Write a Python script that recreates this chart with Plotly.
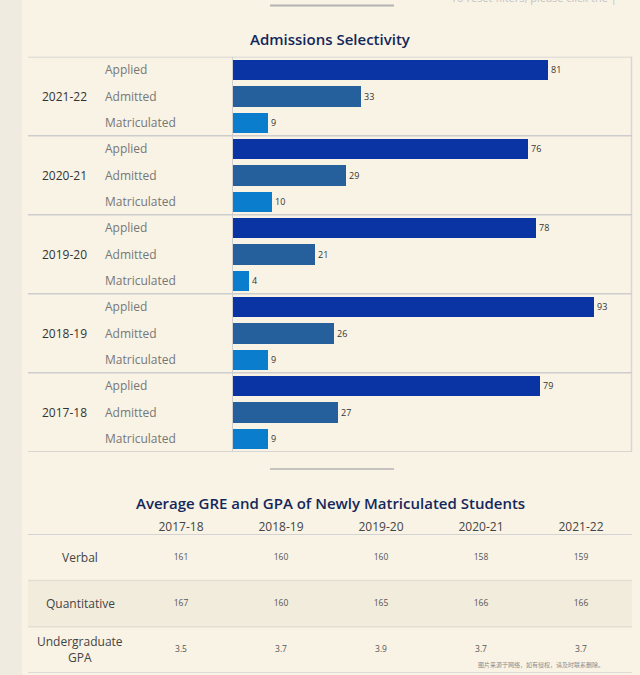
import plotly.graph_objects as go

W, H = 640, 675

# admissions data, top to bottom as shown
years = ["2021-22", "2020-21", "2019-20", "2018-19", "2017-18"]
stages = ["Applied", "Admitted", "Matriculated"]
applied = [81, 76, 78, 93, 79]
admitted = [33, 29, 21, 26, 27]
matriculated = [9, 10, 4, 9, 9]

# GRE / GPA table
table_years = ["2017-18", "2018-19", "2019-20", "2020-21", "2021-22"]
table_rows = ["Verbal", "Quantitative", "Undergraduate<br>GPA"]
verbal = [161, 160, 160, 158, 159]
quantitative = [167, 160, 165, 166, 166]
gpa = [3.5, 3.7, 3.9, 3.7, 3.7]

BG = "#f8f3e5"
STRIP = "#efebe1"
NAVY = "#14275a"
BAR_COLORS = {"Applied": "#0a33a3", "Admitted": "#25609d", "Matriculated": "#0a7dcd"}
FONT = "Open Sans"


def px_x(v):
    return v / W


def px_y(v):
    return 1 - v / H


fig = go.Figure()

# bars
series = {"Applied": applied, "Admitted": admitted, "Matriculated": matriculated}
for j, stage in enumerate(stages):
    vals = series[stage]
    fig.add_trace(go.Bar(
        x=vals,
        y=[i * 3 + j for i in range(len(years))],
        orientation="h",
        width=0.76,
        marker=dict(color=BAR_COLORS[stage], line=dict(width=0)),
        text=[str(v) for v in vals],
        textposition="outside",
        textfont=dict(size=9, color="#333333", family=FONT),
        constraintext="none",
        cliponaxis=False,
        hoverinfo="skip",
        showlegend=False,
    ))

# table values as text marks on categorical axes
tx, ty, tt = [], [], []
for row, vals in zip(table_rows, [verbal, quantitative, gpa]):
    for yr, v in zip(table_years, vals):
        tx.append(yr)
        ty.append(row)
        tt.append(str(v))
fig.add_trace(go.Scatter(
    x=tx, y=ty, text=tt, mode="text",
    textfont=dict(size=8.5, color="#555555", family=FONT),
    xaxis="x2", yaxis="y2", hoverinfo="skip", showlegend=False,
))

n_rows = len(years) * 3
shapes = [
    # left textured strip
    dict(type="rect", xref="paper", yref="paper", x0=0, x1=px_x(22), y0=0, y1=1,
         fillcolor=STRIP, line=dict(width=0), layer="below"),
    # top separators
    dict(type="line", xref="paper", yref="paper", x0=px_x(270), x1=px_x(394),
         y0=px_y(5.5), y1=px_y(5.5), line=dict(color="#b3b3b3", width=2)),
    dict(type="line", xref="paper", yref="paper", x0=px_x(270), x1=px_x(394),
         y0=px_y(469), y1=px_y(469), line=dict(color="#b3b3b3", width=1.5)),
    # bar pane borders
    dict(type="line", xref="paper", yref="y", x0=px_x(232.5), x1=px_x(232.5),
         y0=-0.5, y1=n_rows - 0.5, line=dict(color="#cfcfcf", width=1)),
    dict(type="line", xref="paper", yref="y", x0=px_x(631.5), x1=px_x(631.5),
         y0=-0.5, y1=n_rows - 0.5, line=dict(color="#d6d6d6", width=1.5)),
    # quantitative row shading
    dict(type="rect", xref="paper", yref="y2", x0=px_x(28), x1=px_x(632), y0=0.5, y1=1.5,
         fillcolor="#f2ecdc", line=dict(width=0), layer="below"),
]
for k in range(len(years) + 1):
    shapes.append(dict(type="line", xref="paper", yref="y", x0=px_x(28), x1=px_x(632),
                       y0=k * 3 - 0.5, y1=k * 3 - 0.5,
                       line=dict(color="#cdcdcd", width=1.5)))
for yv, col in [(-0.5, "#c8c8cc"), (0.5, "#e3ded2"), (1.5, "#e3ded2"), (2.5, "#d3d3d3")]:
    shapes.append(dict(type="line", xref="paper", yref="y2", x0=px_x(28), x1=px_x(632),
                       y0=yv, y1=yv, line=dict(color=col, width=1.5)))

annotations = [
    # filter hint, scrolled mostly out of view at the top edge
    dict(text="To reset filters, please click the |", xref="paper", yref="paper",
         x=px_x(449), y=px_y(-2), xanchor="left", yanchor="middle", showarrow=False,
         font=dict(size=11, color="#c4c4c4", family=FONT)),
    dict(text="Admissions Selectivity", xref="paper", yref="paper",
         x=px_x(330), y=px_y(39), xanchor="center", yanchor="middle", showarrow=False,
         font=dict(size=15, color=NAVY, family=FONT, weight=600)),
    dict(text="Average GRE and GPA of Newly Matriculated Students", xref="paper",
         yref="paper", x=px_x(330), y=px_y(502.5), xanchor="center", yanchor="middle",
         showarrow=False, font=dict(size=15, color=NAVY, family=FONT, weight=600)),
    dict(text="图片来源于网络，如有侵权，请及时联系删除。", xref="paper", yref="paper",
         x=px_x(541), y=px_y(664.5), xanchor="center", yanchor="middle", showarrow=False,
         font=dict(size=6, color="#8a8a8a", family="Noto Sans CJK SC")),
]
for i, yr in enumerate(years):
    annotations.append(dict(text=yr, xref="paper", yref="y", x=px_x(64), y=i * 3 + 1,
                            xanchor="center", yanchor="middle", showarrow=False,
                            font=dict(size=12, color="#333333", family=FONT)))
    for j, stage in enumerate(stages):
        annotations.append(dict(text=stage, xref="paper", yref="y", x=px_x(103),
                                y=i * 3 + j, xanchor="left", yanchor="middle",
                                showarrow=False,
                                font=dict(size=12, color="#777777", family=FONT)))
for row in table_rows:
    annotations.append(dict(text=row, xref="paper", yref="y2", x=px_x(80), y=row,
                            xanchor="center", yanchor="middle", align="center",
                            showarrow=False,
                            font=dict(size=12, color="#444444", family=FONT)))

fig.update_layout(
    width=W, height=H,
    margin=dict(l=0, r=0, t=0, b=0),
    paper_bgcolor=BG, plot_bgcolor=BG,
    font=dict(family=FONT),
    bargap=0,
    xaxis=dict(domain=[px_x(233), px_x(632)], range=[0, 102.7], visible=False,
               fixedrange=True),
    yaxis=dict(domain=[px_y(451.7), px_y(56.7)], range=[n_rows - 0.5, -0.5],
               visible=False, fixedrange=True),
    xaxis2=dict(domain=[px_x(131), px_x(631)], anchor="y2", side="top",
                type="category", categoryarray=table_years, range=[-0.5, 4.5],
                showgrid=False, zeroline=False, showline=False, ticks="",
                tickfont=dict(size=12, color="#444444", family=FONT)),
    yaxis2=dict(domain=[px_y(673), px_y(534.3)], anchor="x2", type="category",
                categoryarray=table_rows, range=[2.5, -0.5], showgrid=False,
                zeroline=False, showticklabels=False, showline=False),
    shapes=shapes,
    annotations=annotations,
)

# drop the default page margin so the figure sits at the window origin
fig.write_html("out.html", config={"displayModeBar": False},
               post_script="document.body.style.margin = '0';")
